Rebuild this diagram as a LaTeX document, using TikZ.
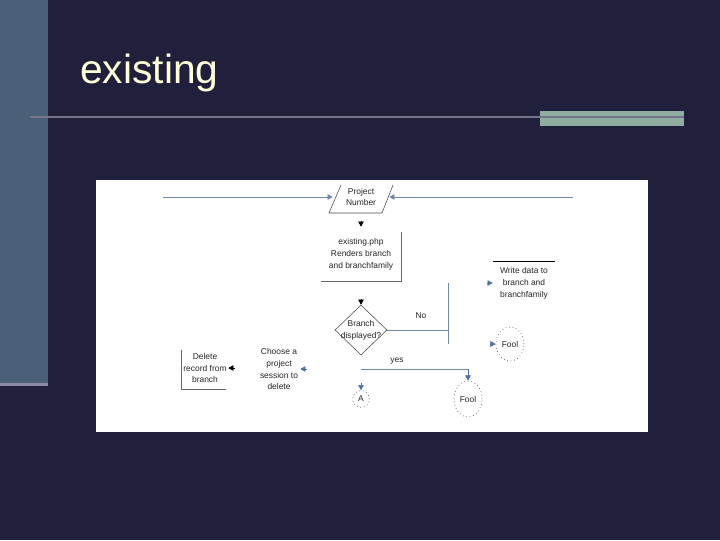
\documentclass[tikz,border=0pt]{standalone}
\usepackage{fontspec}
\setmainfont{Liberation Sans}
\usepackage{tikz}
\usetikzlibrary{positioning,arrows.meta,shapes.geometric}
\usepackage{xcolor}
\definecolor{navy}{HTML}{20203C}
\definecolor{sidebar}{HTML}{4A6078}
\definecolor{rulec}{HTML}{8A8AA2}
\definecolor{sage}{HTML}{8FADA0}
\definecolor{cream}{HTML}{FFFFD8}
\definecolor{linkc}{HTML}{7088A8}
\definecolor{tipc}{HTML}{4F6FA8}

\begin{document}
\begin{tikzpicture}[x=0.025cm,y=-0.025cm,>={Triangle[length=1.3mm,width=1.4mm]},
  txt/.style={align=center,font=\fontsize{6}{8.5}\selectfont,text=black!85,inner sep=0pt},
  link/.style={linkc,line width=0.6pt},
  blk/.style={->,black,line width=0.4pt},
  blu/.style={->,tipc,line width=0.4pt},
  ring/.style={draw=black!70,dotted,line width=0.5pt}]
% slide
\fill[navy] (0,0) rectangle (720,540);
\useasboundingbox (0,0) rectangle (720,540);
\fill[sidebar] (0,0) rectangle (48,383);
\fill[rulec] (0,383) rectangle (48,386);
\fill[sage] (540,111) rectangle (684,126);
\draw[rulec!85!black,line width=1.4pt] (30,117) -- (684,117);
\node[anchor=base west,text=cream,font=\fontsize{29}{34}\selectfont,inner sep=0pt] (title) at (80,83) {existing};
\fill[white] (96,180) rectangle (648,432);
% flow chart
\node[txt,minimum width=1.4cm] (proj) at (361,197) {Project\\Number};
\draw[black!70,line width=0.4pt] (341,185) -- (329,213) -- (382,213) -- (393,185);
\coordinate (inL) at (163,197);
\coordinate (inR) at (573,197);
\draw[link,->] (inL) -- (proj.west);
\draw[link,->] (inR) -- (proj.east);
\node[txt,minimum width=2cm,minimum height=1.35cm] (php) at (361,254) {existing.php\\Renders branch\\and branchfamily};
\draw[black!60,line width=0.4pt] (php.south west) -- (php.south east) -- ++(0,-49);
\coordinate (c1) at (361,221);
\draw[blk] (c1) -- (php.north);
\node[diamond,draw=black!70,line width=0.4pt,minimum width=1.3cm,minimum height=1.25cm,inner sep=0pt] (dec) at (361,330) {};
\node[txt] (decT) at (dec) {Branch\\displayed?};
\coordinate (c2) at (361,299);
\draw[blk] (c2) -- (dec.north);
\coordinate (noJ) at (448,330);
\coordinate (noT) at (448,283);
\coordinate (noB) at (448,344);
\draw[link] (dec.east) -- (noJ);
\draw[link] (noT) -- (noB);
\node[txt] (no) at (421,316) {No};
\coordinate (yesL) at (361,369);
\coordinate (yesR) at (468,369);
\draw[link] (yesL) -- (yesR);
\node[txt] (yes) at (397,361) {yes};
\node[circle,ring,txt,minimum size=0.42cm] (A) at (361,399) {A};
\coordinate (c3) at (361,383);
\draw[blu] (c3) -- (A.north);
\node[ellipse,ring,txt,minimum width=0.7cm,minimum height=0.9cm] (fool1) at (468,399) {Fool};
\draw[blu] (yesR) -- (fool1.north);
\node[ellipse,ring,txt,minimum width=0.7cm,minimum height=0.85cm] (fool2) at (510,344) {Fool};
\coordinate (c4) at (490,344);
\draw[blu] (c4) -- (fool2.west);
\node[txt,minimum width=1.55cm,minimum height=1.05cm] (write) at (524,283) {Write data to\\branch and\\branchfamily};
\draw[black,line width=0.6pt] (write.north west) -- (write.north east);
\coordinate (c5) at (487,283);
\draw[blu] (c5) -- (write.west);
\node[txt,minimum width=1.05cm] (choose) at (279,369) {Choose a\\project\\session to\\delete};
\coordinate (c6) at (307,369);
\draw[blu] (c6) -- (choose.east);
\node[txt,minimum width=1.15cm,minimum height=1.05cm] (del) at (205,368) {Delete\\record from\\branch};
\draw[black!60,line width=0.4pt] (del.north west) ++(0,3) -- (del.south west) -- ++(44,0);
\coordinate (c7) at (235,368);
\draw[blk] (c7) -- (del.east);
\end{tikzpicture}
\end{document}
